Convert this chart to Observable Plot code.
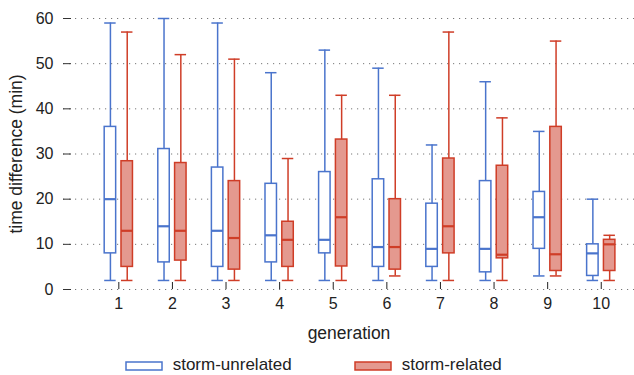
<!DOCTYPE html>
<html><head><meta charset="utf-8">
<script src="https://cdn.jsdelivr.net/npm/d3@7"></script>
<script src="https://cdn.jsdelivr.net/npm/@observablehq/plot@0.6"></script>
<style>
body{margin:0;background:#fff;}
#chart{position:relative;width:634px;height:375px;font-family:"Liberation Sans",Arial,sans-serif;}
#chart svg{display:block;}
</style></head><body><div id="chart"></div>
<script>
const generations = [1, 2, 3, 4, 5, 6, 7, 8, 9, 10];
const seriesNames = ["storm-unrelated", "storm-related"];
const yTicks = [0, 10, 20, 30, 40, 50, 60];
const xLabel = "generation";
const yLabel = "time difference (min)";

const unrelatedLow    = [2, 2, 2, 2, 2, 2, 2, 2, 3, 2];
const unrelatedQ1     = [8, 6, 5, 6, 8, 5, 5, 3.8, 9, 3];
const unrelatedMedian = [20, 14, 13, 12, 11, 9.4, 9, 9, 16, 8];
const unrelatedQ3     = [36, 31.1, 27, 23.4, 26, 24.4, 19, 24, 21.6, 10];
const unrelatedHigh   = [59, 60, 59, 48, 53, 49, 32, 46, 35, 20];

const relatedLow    = [2, 2, 2, 2, 2, 3, 2, 2, 3, 2];
const relatedQ1     = [5, 6.4, 4.4, 5, 5.1, 4.4, 8, 6.9, 4.1, 4.1];
const relatedMedian = [13, 13, 11.4, 11, 16, 9.4, 14, 7.7, 7.8, 10];
const relatedQ3     = [28.4, 28, 24, 15, 33.2, 20, 29, 27.4, 36, 11];
const relatedHigh   = [57, 52, 51, 29, 43, 43, 57, 38, 55, 12];

const styles = {
  "storm-unrelated": {stroke: "#4a74cc", fill: "#ffffff", dx: -8.4},
  "storm-related": {stroke: "#cf3d27", fill: "#e4998f", dx: 8.4}
};
const halfW = 0.107;

const stats = {
  "storm-unrelated": [unrelatedLow, unrelatedQ1, unrelatedMedian, unrelatedQ3, unrelatedHigh],
  "storm-related": [relatedLow, relatedQ1, relatedMedian, relatedQ3, relatedHigh]
};
const rows = [];
for (const s of seriesNames) {
  const [lo, q1, md, q3, hi] = stats[s];
  generations.forEach((g, i) => rows.push({generation: g, series: s, low: lo[i], q1: q1[i], median: md[i], q3: q3[i], high: hi[i]}));
}

const boxMarks = [];
for (const s of seriesNames) {
  const st = styles[s];
  const data = rows.filter(d => d.series === s);
  const x1 = d => d.generation - halfW, x2 = d => d.generation + halfW;
  boxMarks.push(
    Plot.ruleX(data, {x: "generation", y1: "low", y2: "high", stroke: st.stroke, strokeWidth: 1.5, dx: st.dx}),
    Plot.ruleY(data, {y: "high", x1, x2, stroke: st.stroke, strokeWidth: 1.5, dx: st.dx}),
    Plot.ruleY(data, {y: "low", x1, x2, stroke: st.stroke, strokeWidth: 1.5, dx: st.dx}),
    Plot.rect(data, {x1, x2, y1: "q1", y2: "q3", fill: st.fill, stroke: st.stroke, strokeWidth: 1.5, dx: st.dx}),
    Plot.ruleY(data, {y: "median", x1, x2, stroke: st.stroke, strokeWidth: 2.2, dx: st.dx})
  );
}

const plot = Plot.plot({
  width: 634,
  height: 345,
  marginLeft: 63,
  marginRight: 0,
  marginTop: 18,
  marginBottom: 56,
  style: {fontSize: "16px", fontFamily: "'Liberation Sans', Arial, sans-serif", color: "#222", background: "#fff"},
  x: {type: "linear", domain: [-0.032, 10.62]},
  y: {domain: [0, 60]},
  marks: [
    Plot.gridY(yTicks, {stroke: "#777", strokeOpacity: 1, strokeDasharray: "1.2,4.8"}),
    Plot.axisY({ticks: yTicks, tickSize: -8, tickPadding: 18, stroke: "#333", label: null}),
    Plot.axisX({ticks: generations, tickSize: -7, tickPadding: 15, stroke: "#222", tickFormat: d => String(d), label: null}),
    Plot.text([yLabel], {frameAnchor: "left", textAnchor: "middle", lineAnchor: "middle", rotate: -90, dx: -47.5, fontSize: 17.5, fill: "#222"}),
    Plot.text([xLabel], {frameAnchor: "bottom", textAnchor: "middle", lineAnchor: "middle", dy: 44, fontSize: 17.5, fill: "#222"}),
    ...boxMarks
  ]
});
const chart = document.getElementById("chart");
chart.appendChild(plot);

// legend
const legendX = [{swatch: 126, text: 172.7}, {swatch: 355, text: 401.7}];
const leg = d3.select(chart).append("svg").attr("width", 634).attr("height", 30)
  .style("font-family", "'Liberation Sans', Arial, sans-serif").style("font-size", "17px");
seriesNames.forEach((s, i) => {
  const st = styles[s];
  leg.append("rect").attr("x", legendX[i].swatch).attr("y", 17).attr("width", 36).attr("height", 8)
    .attr("fill", st.fill).attr("stroke", st.stroke).attr("stroke-width", 1.5);
  leg.append("text").attr("x", legendX[i].text).attr("y", 24.5).attr("fill", "#222").text(s);
});
</script></body></html>
